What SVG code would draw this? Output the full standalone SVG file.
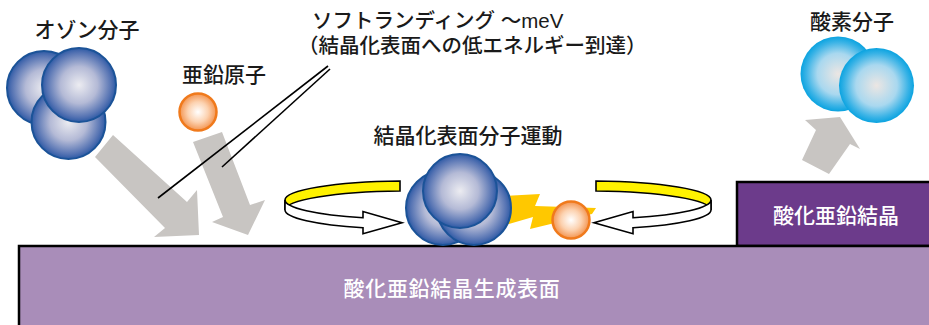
<svg xmlns="http://www.w3.org/2000/svg" xmlns:xlink="http://www.w3.org/1999/xlink" width="929" height="325" viewBox="0 0 929 325">
  <defs>
    <style>
      .lbl { font-family: "Noto Sans CJK JP", "Noto Sans", sans-serif; font-size: 21px; font-weight: 500; fill: #1a1a1a; }
      .lbl-w { font-family: "Noto Sans CJK JP", "Noto Sans", sans-serif; font-size: 21px; font-weight: 500; fill: #ffffff; }
      .note { font-family: "Liberation Sans", "Noto Sans CJK JP", sans-serif; font-size: 20.5px; }
      .mid { text-anchor: middle; }
      .blue { fill: url(#gBlue); stroke: #1b5398; stroke-width: 2; }
      .zinc { fill: url(#gZinc); stroke: #f07a1c; stroke-width: 2.5; }
      .oxy { fill: url(#gOxy); }
      .flow { fill: #c8c5c2; }
      .leader { stroke: #000; stroke-width: 1.6; fill: none; }
      .ring { stroke: #000; stroke-width: 1.6; stroke-linejoin: miter; }
    </style>
    <radialGradient id="gBlue" cx="50%" cy="50%" r="50%">
      <stop offset="0" stop-color="#ececf1"/>
      <stop offset="0.5" stop-color="#b4bad6"/>
      <stop offset="0.87" stop-color="#5573b3"/>
      <stop offset="1" stop-color="#2d5aa5"/>
    </radialGradient>
    <radialGradient id="gZinc" cx="50%" cy="50%" r="50%">
      <stop offset="0" stop-color="#ffffff"/>
      <stop offset="0.55" stop-color="#fcd2b0"/>
      <stop offset="1" stop-color="#f39450"/>
    </radialGradient>
    <radialGradient id="gOxy" cx="50%" cy="50%" r="50%">
      <stop offset="0" stop-color="#ece6e3"/>
      <stop offset="0.55" stop-color="#a9d8ef"/>
      <stop offset="0.85" stop-color="#3ab3e6"/>
      <stop offset="1" stop-color="#0aa3e0"/>
    </radialGradient>
    <!-- rotating ring: yellow inner back face, white front face ending in an arrowhead -->
    <g id="spin">
      <path class="ring" fill="#fff200" d="M400,181.04 A123,19 0 0 0 285,200 L285,210 A123,19 0 0 1 400,191.04 Z"/>
      <path class="ring" fill="#ffffff" d="M285,200 A123,19 0 0 0 363,217.68 L363,211.5 L402,222.7 L363,233.8 L363,227.68 A123,19 0 0 1 285,210 Z"/>
    </g>
  </defs>

  <rect width="929" height="325" fill="#ffffff"/>

  <!-- zinc oxide crystal block (right) -->
  <g id="crystal">
    <rect x="737" y="182" width="200" height="64" fill="#6c3b8b" stroke="#000" stroke-width="2.5"/>
    <text class="lbl-w mid" x="836" y="223">酸化亜鉛結晶</text>
  </g>

  <!-- growth surface slab -->
  <g id="surface">
    <rect x="19" y="246" width="920" height="90" fill="#a98db9" stroke="#000" stroke-width="2.5"/>
    <text class="lbl-w mid" x="452" y="296" letter-spacing="0.7">酸化亜鉛結晶生成表面</text>
  </g>

  <!-- flow arrows and leader lines -->
  <g id="connectors">
    <polygon class="flow" points="95,157 113,135 187,202 197,190 199,235 154,237 165,228"/>
    <polygon class="flow" points="193,142 222,132 250,205 265,200 248,235 212,222 223,217"/>
    <polygon class="flow" points="802,160 816,130 805,120 840,117 860,149 850,144 829,174"/>
    <line class="leader" x1="158" y1="198" x2="328" y2="66"/>
    <line class="leader" x1="222" y1="167" x2="330" y2="69"/>
  </g>

  <!-- ozone molecule -->
  <g id="ozone">
    <circle class="blue" cx="44" cy="88" r="37"/>
    <circle class="blue" cx="68.5" cy="122" r="37"/>
    <circle class="blue" cx="79" cy="85" r="37"/>
    <text class="lbl mid" x="87" y="37">オゾン分子</text>
  </g>

  <!-- zinc atom -->
  <g id="zinc-atom">
    <circle class="zinc" cx="198" cy="112" r="18.5"/>
    <text class="lbl mid" x="224" y="82">亜鉛原子</text>
  </g>

  <!-- soft landing note -->
  <g id="soft-landing">
    <text class="lbl note" x="312" y="28">ソフトランディング ～meV</text>
    <text class="lbl note" x="298" y="53">（結晶化表面への低エネルギー到達）</text>
  </g>

  <!-- surface molecular motion -->
  <g id="surface-motion">
    <text class="lbl mid" x="468" y="143">結晶化表面分子運動</text>
    <use xlink:href="#spin"/>
    <use xlink:href="#spin" transform="matrix(-1 0 0 1 996 0)"/>
    <polygon fill="#ffc800" points="505,196 540,194 535,206 596,208 592,214 530,229 533,217 505,225"/>
    <circle class="blue" cx="443" cy="208" r="37"/>
    <circle class="blue" cx="474" cy="208" r="37"/>
    <circle class="blue" cx="460" cy="191" r="37"/>
    <circle class="zinc" cx="571" cy="220" r="18.5"/>
  </g>

  <!-- oxygen molecule -->
  <g id="oxygen">
    <circle class="oxy" cx="838" cy="74" r="37.5"/>
    <circle class="oxy" cx="876.5" cy="85.5" r="37.5"/>
    <text class="lbl mid" x="852" y="29">酸素分子</text>
  </g>
</svg>
